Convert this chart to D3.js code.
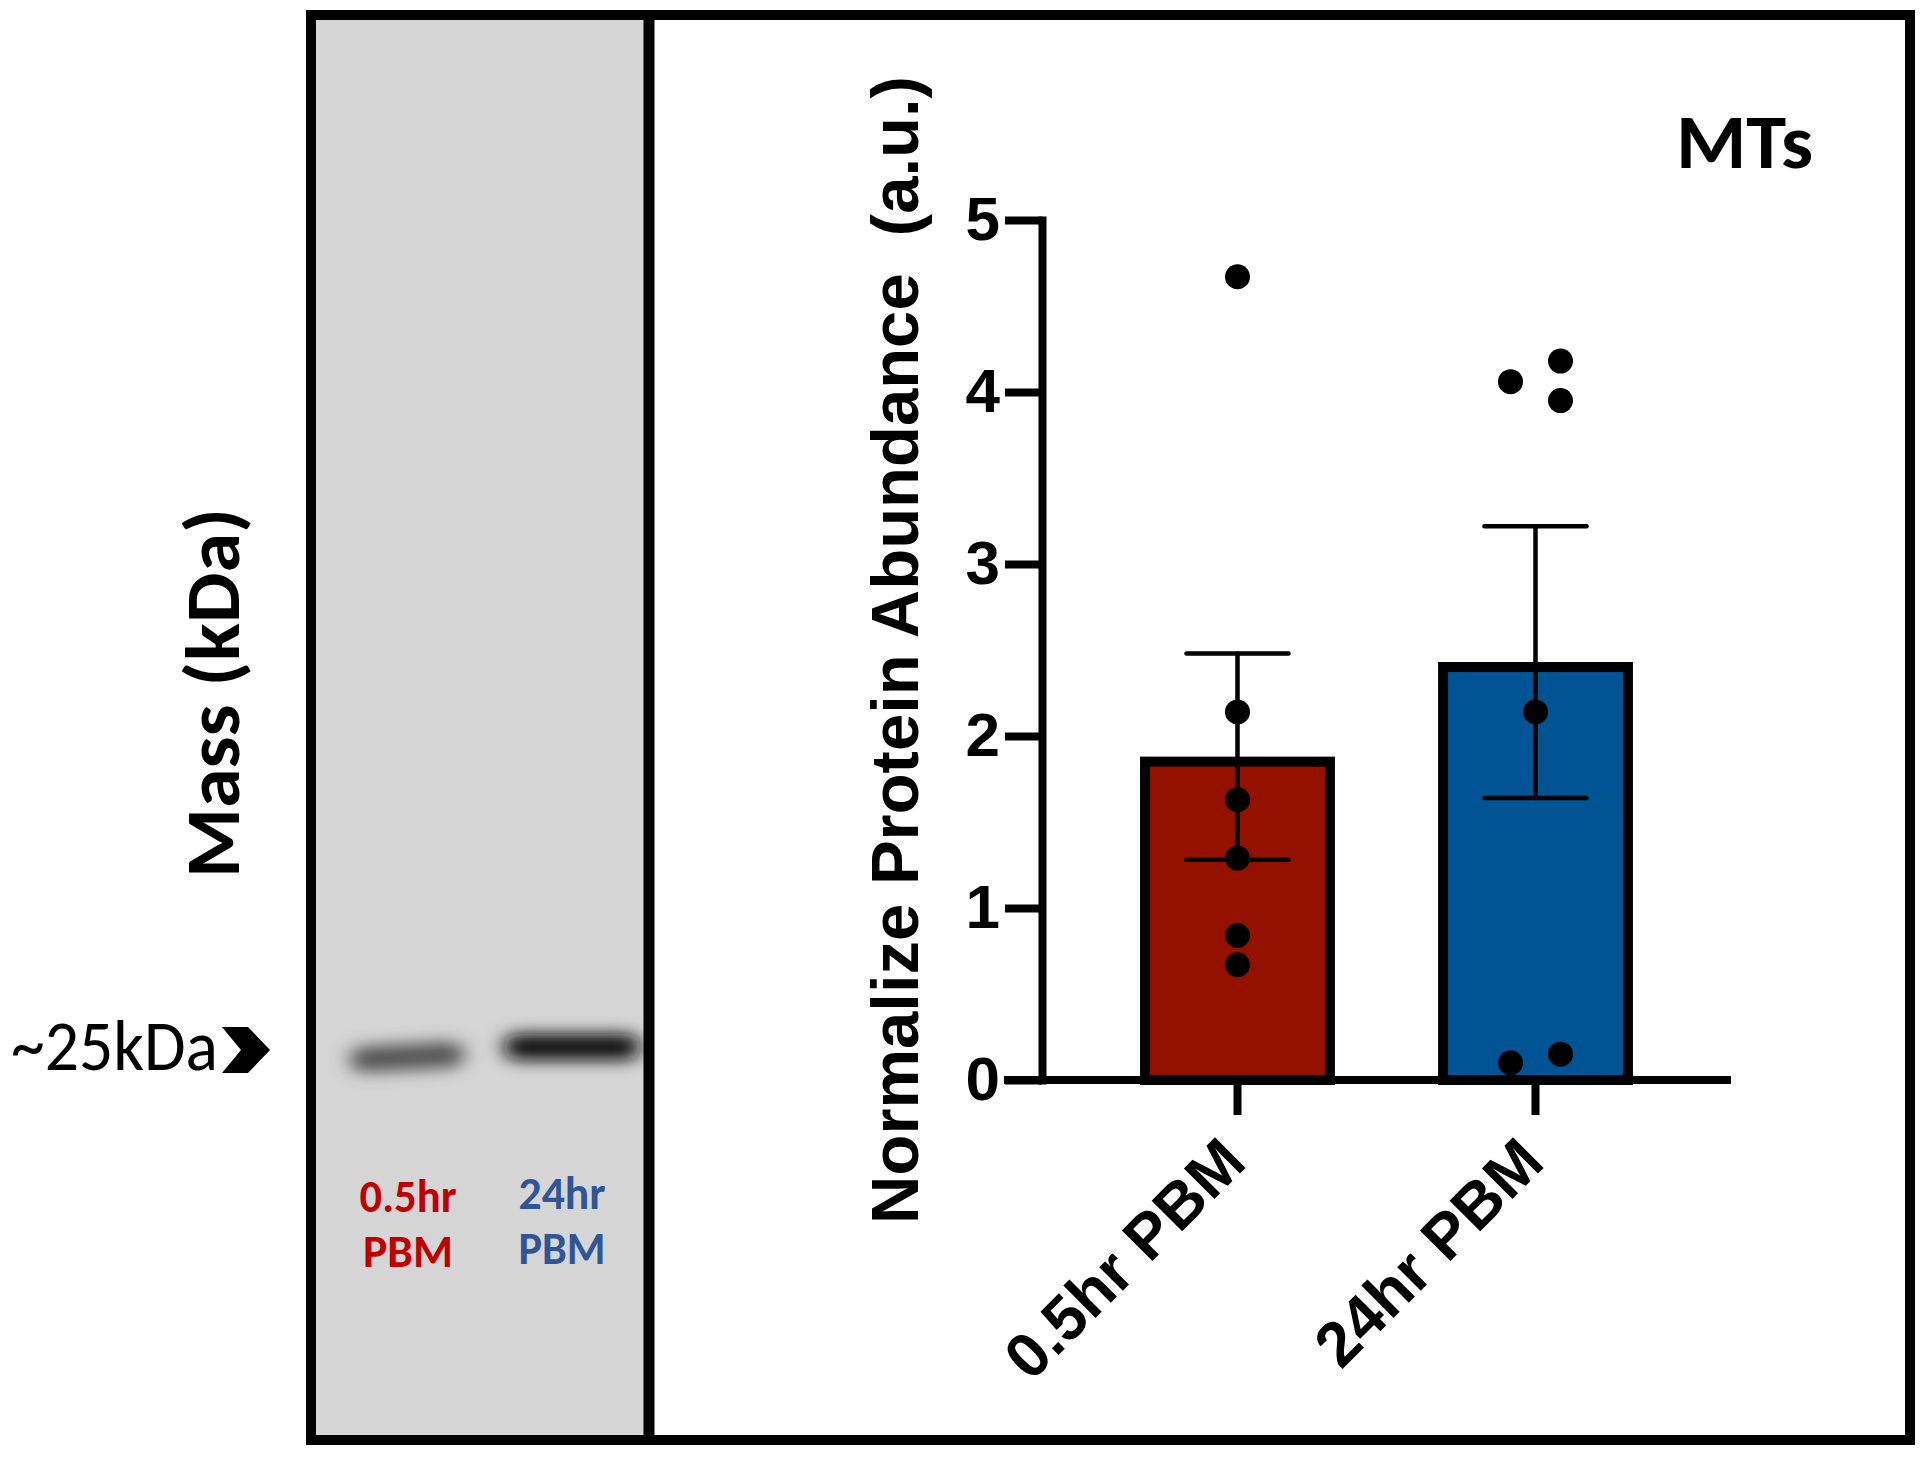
<!DOCTYPE html>
<html>
<head>
<meta charset="utf-8">
<script src="https://cdn.jsdelivr.net/npm/d3@7"></script>
<style>
  body { margin: 0; background: #fff; }
  svg { display: block; }
</style>
</head>
<body>
<div id="chart"></div>
<script>
// ---- data ----
const groups = ["0.5hr PBM", "24hr PBM"];
const barMeans = [1.88, 2.43];
const semUpper = [2.48, 3.22];
const semLower = [1.28, 1.64];
const points05 = [4.67, 2.14, 1.63, 1.29, 0.84, 0.67];
const points24 = [4.18, 4.06, 3.95, 2.14, 0.15, 0.10];
const jitter05 = [0, 0, 0, 0, 0, 0];
const jitter24 = [1, -1, 1, 0, 1, -1];
const yTicks = [0, 1, 2, 3, 4, 5];
const barColors = ["#941100", "#005493"];

// gel lanes
const laneTime = ["0.5hr", "24hr"];
const laneUnit = ["PBM", "PBM"];
const laneColors = ["#c00000", "#2f5597"];
const bandDarkness = [0.74, 0.96];

const W = 1924, H = 1460;
const svg = d3.select("#chart").append("svg")
    .attr("width", W)
    .attr("height", H);

const defs = svg.append("defs");
defs.append("filter").attr("id", "blur")
    .attr("x", "-50%").attr("y", "-200%").attr("width", "200%").attr("height", "500%")
    .append("feGaussianBlur").attr("stdDeviation", "10 8");

// ---- gel panel ----
const gel = { left: 311, right: 649, top: 15, bottom: 1440 };
defs.append("clipPath").attr("id", "gelclip")
    .append("rect")
    .attr("x", gel.left).attr("y", gel.top)
    .attr("width", gel.right - gel.left).attr("height", gel.bottom - gel.top);

svg.append("rect")
    .attr("x", gel.left).attr("y", gel.top)
    .attr("width", gel.right - gel.left).attr("height", gel.bottom - gel.top)
    .attr("fill", "#d5d5d5");

const laneX = d3.scalePoint().domain(laneTime).range([408, 562]);
const bandY = [1057, 1047];
const bandX = [[350, 464], [504, 640]];

svg.append("g").attr("clip-path", "url(#gelclip)")
    .selectAll(".band")
    .data(laneTime)
    .enter().append("rect")
    .attr("class", "band")
    .attr("x", (d, i) => bandX[i][0])
    .attr("width", (d, i) => bandX[i][1] - bandX[i][0])
    .attr("y", (d, i) => bandY[i] - 13)
    .attr("height", 26)
    .attr("rx", 13)
    .attr("transform", (d, i) => i === 0 ? "rotate(-3," + laneX(d) + "," + bandY[i] + ")" : null)
    .attr("fill", (d, i) => d3.interpolateGreys(bandDarkness[i]))
    .attr("filter", "url(#blur)");

const calibri = "Carlito, 'Open Sans', sans-serif";
const laneLabels = svg.append("g")
    .attr("font-family", calibri)
    .attr("font-weight", "bold")
    .attr("font-size", 47)
    .attr("text-anchor", "middle");

laneLabels.selectAll(".time")
    .data(laneTime)
    .enter().append("text")
    .attr("x", d => laneX(d))
    .attr("y", (d, i) => i === 0 ? 1212 : 1209)
    .attr("fill", (d, i) => laneColors[i])
    .attr("textLength", (d, i) => i === 0 ? 97 : 87)
    .attr("lengthAdjust", "spacingAndGlyphs")
    .text(d => d);

laneLabels.selectAll(".unit")
    .data(laneUnit)
    .enter().append("text")
    .attr("x", (d, i) => laneX(laneTime[i]))
    .attr("y", (d, i) => i === 0 ? 1267 : 1264)
    .attr("fill", (d, i) => laneColors[i])
    .attr("textLength", (d, i) => i === 0 ? 90 : 87)
    .attr("lengthAdjust", "spacingAndGlyphs")
    .text(d => d);

// mass label + marker
svg.append("text")
    .attr("transform", "translate(239,693) rotate(-90)")
    .attr("text-anchor", "middle")
    .attr("font-family", calibri)
    .attr("font-weight", "bold")
    .attr("font-size", 76)
    .attr("textLength", 370)
    .attr("lengthAdjust", "spacingAndGlyphs")
    .text("Mass (kDa)");

svg.append("text")
    .attr("x", 11).attr("y", 1070)
    .attr("font-family", calibri)
    .attr("font-size", 72)
    .attr("textLength", 207)
    .attr("lengthAdjust", "spacingAndGlyphs")
    .text("~25kDa");

svg.append("path")
    .attr("transform", "translate(222,1027)")
    .attr("d", "M0,0 H26 L48,23 L26,46 H0 L19,23 Z")
    .attr("fill", "#000");

// ---- frame ----
svg.append("rect")
    .attr("x", gel.left).attr("y", gel.top)
    .attr("width", 1910 - gel.left).attr("height", gel.bottom - gel.top)
    .attr("fill", "none")
    .attr("stroke", "#000")
    .attr("stroke-width", 10);
svg.append("line")
    .attr("x1", gel.right).attr("x2", gel.right)
    .attr("y1", gel.top).attr("y2", gel.bottom)
    .attr("stroke", "#000")
    .attr("stroke-width", 11);

// ---- bar chart ----
const plot = { left: 1042, right: 1731, top: 220, bottom: 1080 };
const arial = "'Liberation Sans', Arial, Helvetica, sans-serif";

const y = d3.scaleLinear().domain([0, 5]).range([plot.bottom, plot.top]);
const x = d3.scaleBand().domain(groups)
    .range([plot.left, plot.right])
    .paddingInner(0.346)
    .paddingOuter(0.329);

const sw = 10;
svg.selectAll(".bar")
    .data(groups)
    .enter().append("rect")
    .attr("class", "bar")
    .attr("x", d => x(d) + sw / 2)
    .attr("y", (d, i) => y(barMeans[i]) + sw / 2)
    .attr("width", x.bandwidth() - sw)
    .attr("height", (d, i) => y(0) - y(barMeans[i]) - sw / 2)
    .attr("fill", (d, i) => barColors[i])
    .attr("stroke", "#000")
    .attr("stroke-width", sw);

// error bars (mean +/- SEM)
const capW = 102;
const err = svg.append("g").attr("stroke", "#000").attr("stroke-width", 4.5).attr("stroke-linecap", "round");
groups.forEach((g, i) => {
    const cx = x(g) + x.bandwidth() / 2;
    err.append("line").attr("x1", cx).attr("x2", cx)
        .attr("y1", y(semLower[i])).attr("y2", y(semUpper[i]));
    [semLower[i], semUpper[i]].forEach(v => {
        err.append("line")
            .attr("x1", cx - capW / 2).attr("x2", cx + capW / 2)
            .attr("y1", y(v)).attr("y2", y(v));
    });
});

// individual points
const dotR = 12.5;
const pointSets = [points05, points24];
const jitters = [jitter05, jitter24];
groups.forEach((g, i) => {
    const cx = x(g) + x.bandwidth() / 2;
    svg.append("g").selectAll("circle")
        .data(pointSets[i])
        .enter().append("circle")
        .attr("cx", (d, j) => cx + jitters[i][j] * 2 * dotR)
        .attr("cy", d => y(d))
        .attr("r", dotR)
        .attr("fill", "#000");
});

// y axis
const yAxis = svg.append("g")
    .attr("transform", "translate(" + plot.left + ",0)")
    .call(d3.axisLeft(y).tickValues(yTicks).tickFormat(d3.format("d"))
        .tickSize(37).tickSizeOuter(0).tickPadding(5));
yAxis.select(".domain").attr("stroke-width", 8).attr("stroke-linecap", "square");
yAxis.selectAll(".tick line").attr("stroke-width", 8);
yAxis.selectAll(".tick text")
    .attr("font-family", arial)
    .attr("font-weight", "bold")
    .attr("font-size", 62)
    .attr("fill", "#000");

// x axis
const xAxis = svg.append("g")
    .attr("transform", "translate(0," + plot.bottom + ")")
    .call(d3.axisBottom(x).tickSize(35).tickSizeOuter(0));
xAxis.select(".domain").remove();
xAxis.append("line")
    .attr("x1", plot.left - 38).attr("x2", plot.right)
    .attr("stroke", "#000")
    .attr("stroke-width", 8);
xAxis.selectAll(".tick line").attr("stroke-width", 8);
xAxis.selectAll(".tick text")
    .attr("y", 0).attr("dy", 0)
    .attr("transform", "translate(11,85) rotate(-45)")
    .attr("text-anchor", "end")
    .attr("font-family", arial)
    .attr("font-weight", "bold")
    .attr("font-size", 63)
    .attr("fill", "#000");

// y axis title
svg.append("text")
    .attr("transform", "translate(918,650) rotate(-90)")
    .attr("text-anchor", "middle")
    .attr("font-family", arial)
    .attr("font-weight", "bold")
    .attr("font-size", 67)
    .style("white-space", "pre")
    .text("Normalize Protein Abundance  (a.u.)");

// panel title
svg.append("text")
    .attr("x", 1676).attr("y", 168)
    .attr("font-family", calibri)
    .attr("font-weight", "bold")
    .attr("font-size", 76)
    .attr("textLength", 137)
    .attr("lengthAdjust", "spacingAndGlyphs")
    .text("MTs");
</script>
</body>
</html>
